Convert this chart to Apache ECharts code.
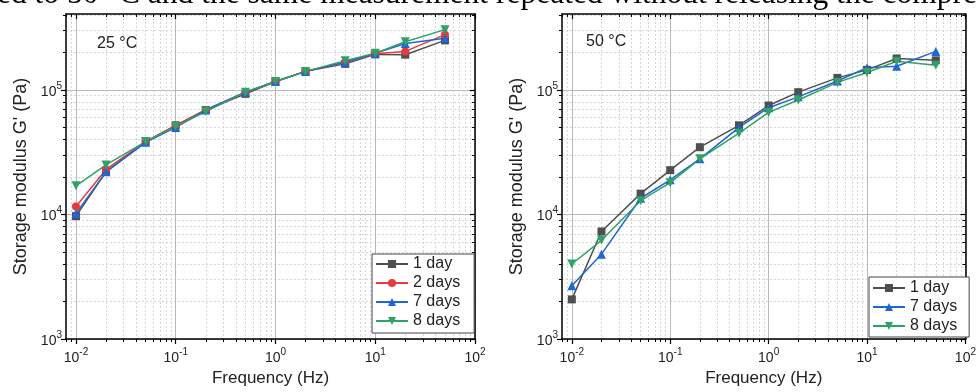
<!DOCTYPE html>
<html>
<head>
<meta charset="utf-8">
<script src="https://cdn.jsdelivr.net/npm/echarts@6/dist/echarts.min.js"></script>
<style>
  html, body { margin: 0; padding: 0; background: #fff; }
  #chart { width: 979px; height: 392px; }
</style>
</head>
<body>
<div id="chart"></div>
<script>
// frequencies (Hz), shared by every curve
const freq = [0.01, 0.02, 0.05, 0.1, 0.2, 0.5, 1, 2, 5, 10, 20, 50];

// 25 °C, storage modulus G' (Pa)
const g25_day1 = [9.7e3, 2.2e4, 3.85e4, 5.2e4, 6.9e4, 9.3e4, 1.17e5, 1.41e5, 1.62e5, 1.93e5, 1.92e5, 2.5e5];
const g25_day2 = [1.16e4, 2.3e4, 3.85e4, 5.2e4, 6.9e4, 9.6e4, 1.17e5, 1.41e5, 1.67e5, 1.95e5, 2.04e5, 2.78e5];
const g25_day7 = [1.02e4, 2.2e4, 3.8e4, 5.0e4, 6.9e4, 9.6e4, 1.17e5, 1.41e5, 1.67e5, 1.97e5, 2.36e5, 2.6e5];
const g25_day8 = [1.7e4, 2.5e4, 3.85e4, 5.1e4, 6.7e4, 9.6e4, 1.17e5, 1.41e5, 1.72e5, 1.97e5, 2.44e5, 3.05e5];

// 50 °C
const g50_day1 = [2.08e3, 7.3e3, 1.47e4, 2.27e4, 3.47e4, 5.2e4, 7.5e4, 9.6e4, 1.25e5, 1.45e5, 1.79e5, 1.73e5];
const g50_day7 = [2.68e3, 4.8e3, 1.35e4, 1.9e4, 2.8e4, 5.0e4, 7.2e4, 8.8e4, 1.18e5, 1.51e5, 1.55e5, 2.04e5];
const g50_day8 = [4.0e3, 6.2e3, 1.29e4, 1.8e4, 2.8e4, 4.5e4, 6.6e4, 8.3e4, 1.15e5, 1.38e5, 1.7e5, 1.58e5];

// axis ticks, as decade exponents
const xDecades = [-2, -1, 0, 1, 2];
const yDecades = [3, 4, 5];
const xRange = [-2.1, 2];
const yRange = [3, 5.61];

const FONT = "Liberation Sans";
const colors = { "1 day": "#4f4f4f", "2 days": "#e53b3b", "7 days": "#1f66d6", "8 days": "#2fa265" };
const symbols = { "1 day": "rect", "2 days": "circle", "7 days": "triangle", "8 days": "path://M0,0 L10,0 L5,9 Z" };

function minorsBetween(range) {
  const out = [];
  for (let n = Math.floor(range[0]) - 1; n <= Math.ceil(range[1]); n++) {
    for (let k = 2; k <= 9; k++) {
      const v = n + Math.log10(k);
      if (v > range[0] && v < range[1]) out.push(v);
    }
  }
  return out;
}

const powLabel = {
  formatter: v => "{b|10}{s|" + Math.round(v) + "}",
  rich: {
    b: { fontFamily: FONT, fontSize: 14, color: "#222", lineHeight: 18, verticalAlign: "bottom" },
    s: { fontFamily: FONT, fontSize: 10, color: "#222", lineHeight: 18, verticalAlign: "top" }
  }
};

const frameLine = { show: true, onZero: false, lineStyle: { color: "#000", width: 1.5 } };
const noLine = { show: false, onZero: false };

function xAxes(gi, name) {
  const minors = minorsBetween(xRange);
  const base = { type: "value", gridIndex: gi, min: xRange[0], max: xRange[1] };
  return [
    Object.assign({}, base, {
      position: "bottom", name: name, nameLocation: "middle", nameGap: 31,
      nameTextStyle: { fontFamily: FONT, fontSize: 17, color: "#222" },
      axisLine: frameLine,
      axisTick: { show: true, inside: false, length: 5, customValues: xDecades, lineStyle: { color: "#000", width: 1.2 } },
      axisLabel: Object.assign({ show: true, margin: 8, customValues: xDecades }, powLabel),
      splitLine: { show: true, lineStyle: { color: "#b8b8b8", width: 1 } }
    }),
    Object.assign({}, base, {
      position: "bottom",
      axisLine: noLine,
      axisTick: { show: true, inside: false, length: 3, customValues: minors, lineStyle: { color: "#000", width: 1 } },
      axisLabel: { show: false },
      splitLine: { show: true, lineStyle: { color: "#d6d6d6", width: 1, type: [2, 2] } }
    }),
    Object.assign({}, base, {
      position: "top",
      axisLine: frameLine,
      axisTick: { show: true, inside: true, length: 5, customValues: xDecades, lineStyle: { color: "#000", width: 1.2 } },
      axisLabel: { show: false },
      splitLine: { show: false }
    }),
    Object.assign({}, base, {
      position: "top",
      axisLine: noLine,
      axisTick: { show: true, inside: true, length: 3, customValues: minors, lineStyle: { color: "#000", width: 1 } },
      axisLabel: { show: false },
      splitLine: { show: false }
    })
  ];
}

function yAxes(gi, name) {
  const minors = minorsBetween(yRange);
  const base = { type: "value", gridIndex: gi, min: yRange[0], max: yRange[1] };
  return [
    Object.assign({}, base, {
      position: "left", name: name, nameLocation: "middle", nameGap: 36,
      nameTextStyle: { fontFamily: FONT, fontSize: 18, color: "#222" },
      axisLine: frameLine,
      axisTick: { show: true, inside: false, length: 5, customValues: yDecades, lineStyle: { color: "#000", width: 1.2 } },
      axisLabel: Object.assign({ show: true, margin: 4, customValues: yDecades }, powLabel),
      splitLine: { show: true, lineStyle: { color: "#b8b8b8", width: 1 } }
    }),
    Object.assign({}, base, {
      position: "left",
      axisLine: noLine,
      axisTick: { show: true, inside: false, length: 3, customValues: minors, lineStyle: { color: "#000", width: 1 } },
      axisLabel: { show: false },
      splitLine: { show: true, lineStyle: { color: "#d6d6d6", width: 1, type: [2, 2] } }
    }),
    Object.assign({}, base, {
      position: "right",
      axisLine: frameLine,
      axisTick: { show: true, inside: true, length: 5, customValues: yDecades, lineStyle: { color: "#000", width: 1.2 } },
      axisLabel: { show: false },
      splitLine: { show: false }
    }),
    Object.assign({}, base, {
      position: "right",
      axisLine: noLine,
      axisTick: { show: true, inside: true, length: 3, customValues: minors, lineStyle: { color: "#000", width: 1 } },
      axisLabel: { show: false },
      splitLine: { show: false }
    })
  ];
}

function curve(name, gi, values) {
  return {
    name: name, type: "line", xAxisIndex: gi * 4, yAxisIndex: gi * 4,
    data: freq.map((f, i) => [Math.log10(f), Math.log10(values[i])]),
    symbol: symbols[name], symbolSize: name === "8 days" || name === "7 days" ? 9 : 8,
    color: colors[name],
    lineStyle: { width: 1.5, color: colors[name] },
    itemStyle: { color: colors[name] },
    z: 5
  };
}

function legendBox(names, left, top, padding) {
  return {
    data: names, orient: "vertical", left: left, top: top, padding: padding,
    itemWidth: 32, itemHeight: 10, itemGap: 3,
    backgroundColor: "#fff", borderColor: "#444", borderWidth: 1,
    textStyle: { fontFamily: FONT, fontSize: 16, color: "#222" },
    selectedMode: false
  };
}

const chart = echarts.init(document.getElementById("chart"));
chart.setOption({
  animation: false,
  backgroundColor: "#fff",
  grid: [
    { left: 66, top: 14, width: 409, height: 329 },
    { left: 562, top: 14, width: 409, height: 329 }
  ],
  xAxis: xAxes(0, "Frequency (Hz)").concat(xAxes(1, "Frequency (Hz)")),
  yAxis: yAxes(0, "Storage modulus G' (Pa)").concat(yAxes(1, "Storage modulus G' (Pa)")),
  title: [
    { text: "25 °C", left: 92, top: 31, textStyle: { fontFamily: FONT, fontSize: 16, fontWeight: "normal", color: "#222" } },
    { text: "50 °C", left: 581, top: 29, textStyle: { fontFamily: FONT, fontSize: 16, fontWeight: "normal", color: "#222" } }
  ],
  legend: [
    legendBox(["1 day", "2 days", "7 days", "8 days"], 372, 254, [2, 14, 4, 3]),
    legendBox(["1 day", "7 days", "8 days"], 869, 277, [3, 12, 3, 3])
  ],
  graphic: [
    {
      type: "text", left: -3, top: -21,
      style: {
        text: "ed to 50 °C and the same measurement repeated without releasing the compre",
        font: "31.5px 'Liberation Serif'", fill: "#000"
      }
    }
  ],
  series: [
    curve("1 day", 0, g25_day1),
    curve("2 days", 0, g25_day2),
    curve("7 days", 0, g25_day7),
    curve("8 days", 0, g25_day8),
    curve("1 day", 1, g50_day1),
    curve("7 days", 1, g50_day7),
    curve("8 days", 1, g50_day8)
  ]
});
</script>
</body>
</html>
